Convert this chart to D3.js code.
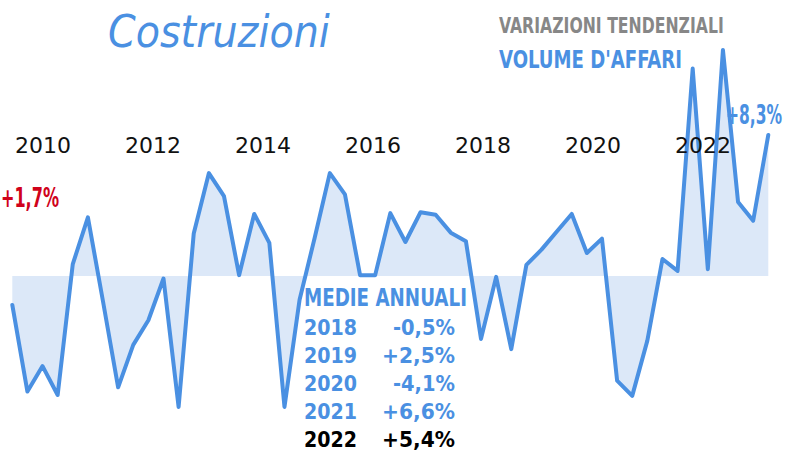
<!DOCTYPE html>
<html>
<head>
<meta charset="utf-8">
<script src="https://cdn.jsdelivr.net/npm/d3@7"></script>
<style>
  html, body { margin: 0; padding: 0; background: #fff; }
  svg { display: block; }
</style>
</head>
<body>
<svg id="chart" width="785" height="454"></svg>
<script>
// quarterly trend changes (%), volume d'affari - costruzioni
const values = [
  -1.7, -6.8, -5.3, -7.0, 0.7, 3.45, -1.5, -6.55, -4.05, -2.6,
  -0.15, -7.7, 2.5, 6.05, 4.7, 0.05, 3.65, 1.95, -7.7, -1.4,
  2.25, 6.05, 4.8, 0.05, 0.05, 3.7, 2.0, 3.75, 3.6, 2.55,
  2.05, -3.7, -0.05, -4.3, 0.65, 1.55, 2.6, 3.65, 1.35, 2.2,
  -6.15, -7.05, -3.8, 1.0, 0.3, 12.2, 0.4, 13.3, 4.35, 3.25,
  8.3
];
const yearTicks = [2010, 2012, 2014, 2016, 2018, 2020, 2022];
const avgYears = ['2018', '2019', '2020', '2021', '2022'];
const avgValues = ['-0,5%', '+2,5%', '-4,1%', '+6,6%', '+5,4%'];

const blue = '#4a90e2';
const svg = d3.select('#chart');

const x = d3.scaleLinear().domain([0, values.length - 1]).range([12.3, 768.3]);
const y = d3.scaleLinear().domain([-8, 14]).range([412, 38]);
// year labels sit on their own spacing in the original
const xYear = d3.scaleLinear().domain([2010, 2022]).range([43, 703]);

const condensed = "'Liberation Sans Narrow', 'DejaVu Sans Condensed', 'DejaVu Sans', sans-serif";

// area between line and zero
svg.append('path')
    .datum(values)
    .attr('fill', '#dce8f8')
    .attr('d', d3.area()
        .x((d, i) => x(i))
        .y0(y(0))
        .y1(d => y(d)));

svg.append('path')
    .datum(values)
    .attr('fill', 'none')
    .attr('stroke', blue)
    .attr('stroke-width', 4)
    .attr('stroke-linejoin', 'round')
    .attr('stroke-linecap', 'round')
    .attr('d', d3.line()
        .x((d, i) => x(i))
        .y(d => y(d)));

// year labels
svg.append('g')
    .selectAll('text')
    .data(yearTicks)
    .enter()
    .append('text')
    .attr('x', d => xYear(d))
    .attr('y', 153)
    .attr('text-anchor', 'middle')
    .style('font-family', "'DejaVu Sans', sans-serif")
    .style('font-size', '22px')
    .style('fill', '#111')
    .text(d => d);

// squeeze a text horizontally to a given width
const fitWidth = (sel, px, py, len) => {
    const w = sel.node().getComputedTextLength();
    sel.attr('transform', `translate(${px},${py}) scale(${len / w},1)`);
    return sel;
};

// title
fitWidth(svg.append('text')
    .style('font-family', "'DejaVu Sans', sans-serif")
    .style('font-style', 'italic')
    .style('font-size', '44px')
    .style('fill', blue)
    .text('Costruzioni'), 108, 47, 222);

const label = (txt, px, py, size, len, color) => fitWidth(svg.append('text')
    .style('font-family', condensed)
    .style('font-weight', 'bold')
    .style('font-size', size + 'px')
    .style('fill', color)
    .text(txt), px, py, len);

label('VARIAZIONI TENDENZIALI', 499, 33, 22, 225, '#878787');
label("VOLUME D'AFFARI", 499, 68, 25, 183, blue);
label('+8,3%', 726, 124, 27, 56, blue);
label('+1,7%', 1, 207, 27, 58, '#d0021b');
label('MEDIE ANNUALI', 304, 306, 25, 163, blue);

// annual averages table
const rowY = d3.scalePoint().domain(avgYears).range([335, 447]);
const cell = (txt, px, py, len, color) => fitWidth(svg.append('text')
    .style('font-family', "'DejaVu Sans', sans-serif")
    .style('font-weight', 'bold')
    .style('font-size', '22px')
    .style('fill', color)
    .text(txt), px, py, len);

avgYears.forEach((yr, i) => {
    const color = i === avgYears.length - 1 ? '#000' : blue;
    const v = avgValues[i];
    const plus = v[0] === '+';
    cell(yr, 304, rowY(yr), 53, color);
    cell(v, plus ? 382 : 393, rowY(yr), plus ? 73 : 62, color);
});
</script>
</body>
</html>
